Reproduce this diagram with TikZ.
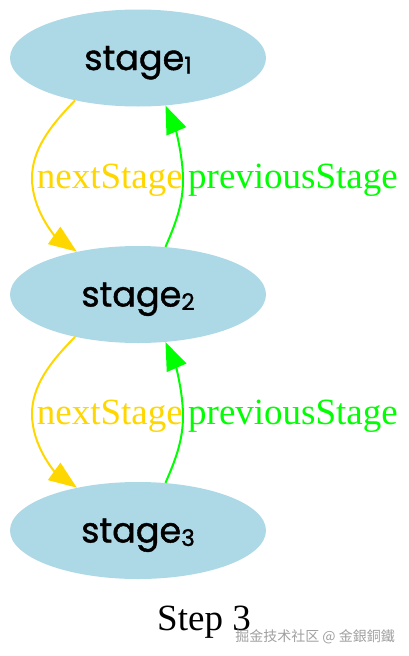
\documentclass[tikz,border=0pt]{standalone}
\usepackage{fontspec}
\setmainfont{Liberation Serif}
\newfontfamily\nodefont{Poppins}[FakeBold=1.2]
\newfontfamily\cjkfont{Noto Sans CJK TC}
\usetikzlibrary{arrows.meta,shapes.geometric}
\definecolor{nodeblue}{HTML}{ADD8E6}
\definecolor{nextcol}{HTML}{FFD700}
\definecolor{prevcol}{HTML}{00FF00}
\definecolor{wmgray}{HTML}{A0A0A0}
\tikzset{
  stagenode/.style={ellipse, fill=nodeblue, minimum width=256pt, minimum height=97pt, inner sep=0pt,
    text depth=0pt, font=\nodefont\fontsize{35}{38}\selectfont},
  nextedge/.style={draw=nextcol, line width=2pt, -{Triangle[length=28pt,width=21pt]}, fill=none},
  prevedge/.style={draw=prevcol, line width=2pt, -{Triangle[length=28pt,width=21pt]}, fill=none},
  nextlabel/.style={text=nextcol, inner sep=0pt, anchor=base east, font=\fontsize{37}{40}\selectfont},
  prevlabel/.style={text=prevcol, inner sep=0pt, anchor=base west, font=\fontsize{37}{40}\selectfont},
}
\newcommand{\stg}[1]{stage\raisebox{-0.1em}{\fontsize{23}{24}\selectfont #1}\hspace{12pt}}
\begin{document}
\begin{tikzpicture}[x=1pt,y=-1pt]
\useasboundingbox (0,0) rectangle (408,656);
\node[stagenode] (s1) at (138,58) {\stg{1}};
\node[stagenode] (s2) at (138,294.5) {\stg{2}};
\node[stagenode] (s3) at (138,530.5) {\stg{3}};
% stage1 <-> stage2
\draw[nextedge] (s1.214) .. controls (50,126) and (32,150) .. (32,178)
   .. controls (32,210) and (55,236) .. (s2.145);
\draw[prevedge] (s2.60) .. controls (175,225) and (183,205) .. (183,180)
   .. controls (183,155) and (175,128) .. (s1.-60);
\node[nextlabel] (n1) at (183,188) {nextStage};
\node[prevlabel] (p1) at (188,188) {previousStage};
% stage2 <-> stage3
\draw[nextedge] (s2.214) .. controls (50,362) and (32,386) .. (32,414)
   .. controls (32,446) and (55,472) .. (s3.145);
\draw[prevedge] (s3.60) .. controls (175,461) and (183,441) .. (183,416)
   .. controls (183,391) and (175,364) .. (s2.-60);
\node[nextlabel] (n2) at (183,424) {nextStage};
\node[prevlabel] (p2) at (188,424) {previousStage};
\node[anchor=base, inner sep=0pt, font=\fontsize{37}{40}\selectfont] (title) at (204,630) {Step 3};
\node[anchor=base east, inner sep=0pt, text=wmgray, font=\cjkfont\fontsize{14}{15}\selectfont] (wm) at (395,641) {掘金技术社区 @ 金銀銅鐵};
\end{tikzpicture}
\end{document}
